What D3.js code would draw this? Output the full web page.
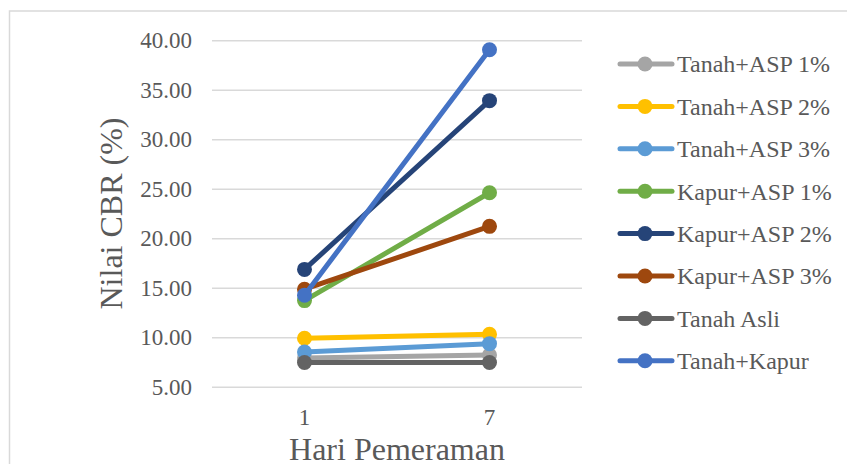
<!DOCTYPE html>
<html>
<head>
<meta charset="utf-8">
<script src="https://cdn.jsdelivr.net/npm/d3@7"></script>
<style>
  html, body { margin: 0; padding: 0; background: #fff; }
  svg { display: block; }
  text { font-family: "Liberation Serif", "Times New Roman", serif; fill: #595959; }
</style>
</head>
<body>
<svg id="chart" width="847" height="464"></svg>
<script>
// Curing days on the x axis
const days = ["1", "7"];

// CBR values (%) per mix, one array per series
const seriesNames = [
  "Tanah+ASP 1%", "Tanah+ASP 2%", "Tanah+ASP 3%",
  "Kapur+ASP 1%", "Kapur+ASP 2%", "Kapur+ASP 3%",
  "Tanah Asli", "Tanah+Kapur"
];
const tanahAsp1 = [7.9, 8.2];
const tanahAsp2 = [9.9, 10.3];
const tanahAsp3 = [8.5, 9.35];
const kapurAsp1 = [13.7, 24.6];
const kapurAsp2 = [16.85, 33.9];
const kapurAsp3 = [14.85, 21.2];
const tanahAsli = [7.45, 7.45];
const tanahKapur = [14.25, 39.05];
const seriesValues = [tanahAsp1, tanahAsp2, tanahAsp3, kapurAsp1, kapurAsp2, kapurAsp3, tanahAsli, tanahKapur];
const seriesColors = ["#A5A5A5", "#FFC000", "#5B9BD5", "#70AD47", "#264478", "#9E480E", "#636363", "#4472C4"];

// Y axis ticks
const yTicks = [5, 10, 15, 20, 25, 30, 35, 40];

const svg = d3.select("#chart");

// outer chart frame
svg.append("rect")
  .attr("x", 9.5).attr("y", 11)
  .attr("width", 900).attr("height", 500)
  .attr("fill", "none")
  .attr("stroke", "#D9D9D9")
  .attr("stroke-width", 1.5);

const plot = { left: 212, right: 582, top: 40.3, bottom: 386.7 };

const x = d3.scaleBand().domain(days).range([plot.left, plot.right]);
const y = d3.scaleLinear().domain([5, 40]).range([plot.bottom, plot.top]);

// horizontal gridlines and y labels
const yAxis = d3.axisLeft(y)
  .tickValues(yTicks)
  .tickSize(-(plot.right - plot.left))
  .tickPadding(20)
  .tickFormat(d3.format(".2f"));

const gy = svg.append("g")
  .attr("transform", `translate(${plot.left},0)`)
  .call(yAxis);
gy.attr("font-family", null);
gy.select(".domain").remove();
gy.selectAll(".tick line").attr("stroke", "#D9D9D9").attr("stroke-width", 1.5);
gy.selectAll(".tick text")
  .attr("font-size", 23)
  .attr("fill", "#595959")
  .style("font-family", "'Liberation Serif', serif");

// x labels
const xAxis = d3.axisBottom(x).tickSize(0).tickPadding(22);
const gx = svg.append("g")
  .attr("transform", `translate(0,${plot.bottom})`)
  .call(xAxis);
gx.attr("font-family", null);
gx.select(".domain").remove();
gx.selectAll(".tick text")
  .attr("font-size", 23)
  .attr("fill", "#595959")
  .style("font-family", "'Liberation Serif', serif");

// series lines and markers
const cx = d => x(d) + x.bandwidth() / 2;
const line = d3.line().x((v, i) => cx(days[i])).y(v => y(v));

seriesValues.forEach((vals, si) => {
  const g = svg.append("g");
  g.append("path")
    .attr("d", line(vals))
    .attr("fill", "none")
    .attr("stroke", seriesColors[si])
    .attr("stroke-width", 5)
    .attr("stroke-linecap", "round");
  g.selectAll("circle")
    .data(vals)
    .join("circle")
    .attr("cx", (v, i) => cx(days[i]))
    .attr("cy", v => y(v))
    .attr("r", 7.5)
    .attr("fill", seriesColors[si]);
});

// axis titles
svg.append("text")
  .attr("transform", `translate(122,${(plot.top + plot.bottom) / 2}) rotate(-90)`)
  .attr("text-anchor", "middle")
  .attr("font-size", 32)
  .text("Nilai CBR (%)");

svg.append("text")
  .attr("x", (plot.left + plot.right) / 2)
  .attr("y", 460)
  .attr("text-anchor", "middle")
  .attr("font-size", 32)
  .text("Hari Pemeraman");

// legend
const legend = svg.append("g");
seriesNames.forEach((name, i) => {
  const ly = 64 + i * 42.4;
  legend.append("line")
    .attr("x1", 620).attr("x2", 672)
    .attr("y1", ly).attr("y2", ly)
    .attr("stroke", seriesColors[i])
    .attr("stroke-width", 5)
    .attr("stroke-linecap", "round");
  legend.append("circle")
    .attr("cx", 645).attr("cy", ly).attr("r", 7.5)
    .attr("fill", seriesColors[i]);
  legend.append("text")
    .attr("x", 677)
    .attr("y", ly)
    .attr("dy", "0.35em")
    .attr("font-size", 24)
    .text(name);
});
</script>
</body>
</html>
